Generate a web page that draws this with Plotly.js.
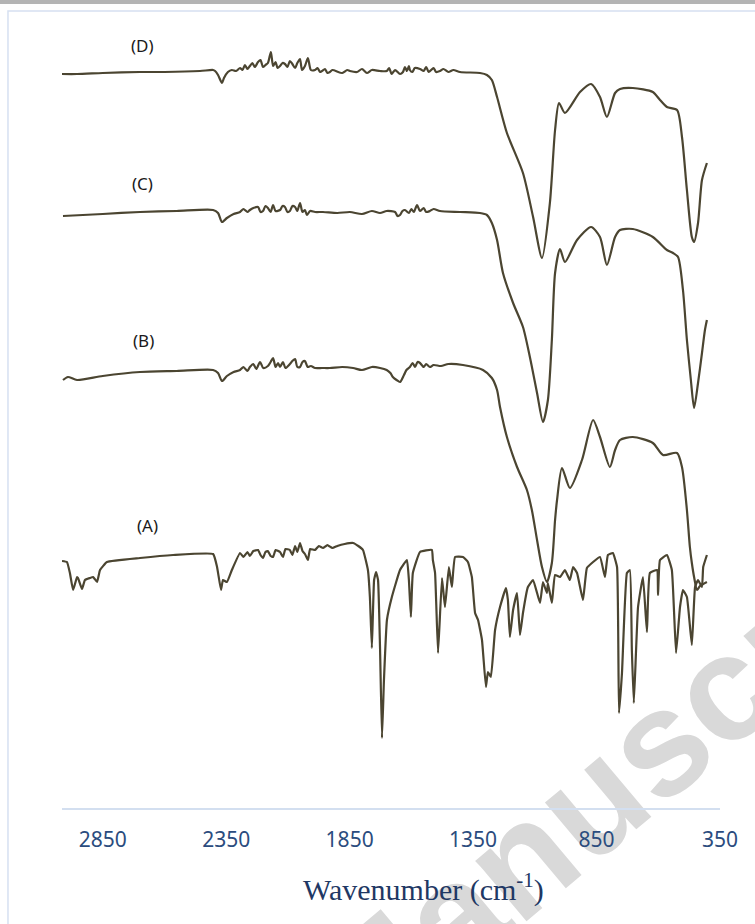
<!DOCTYPE html>
<html>
<head>
<meta charset="utf-8">
<script src="https://cdn.plot.ly/plotly-3.0.1.min.js"></script>
<style>
html,body{margin:0;padding:0;background:#fff;}
#wrap{position:relative;width:755px;height:924px;overflow:hidden;background:#fff;}
#wm{position:absolute;left:632px;top:765px;width:0;height:0;z-index:0;}
#wm span{position:absolute;left:0;top:0;white-space:nowrap;display:inline-block;
  transform:translate(-50%,-50%) rotate(-40deg);transform-origin:center center;
  font:bold 150px "Liberation Sans",Arial,sans-serif;color:#d9d9d9;line-height:1;}
#chart{position:absolute;left:0;top:0;width:755px;height:924px;z-index:1;}
</style>
</head>
<body>
<div id="wrap">
<div id="wm"><span>Manuscript</span></div>
<div id="chart"></div>
</div>
<script>
// FTIR spectra (arbitrary offset transmittance units)
const wnD = [3015,2954,2850,2699,2600,2456,2403,2395,2383,2367,2359,2343,2327,2310,2294,2284,2274,2264,2254,2244,2234,2221,2211,2201,2191,2181,2169,2160,2150,2142,2132,2122,2112,2102,2092,2082,2071,2062,2051,2043,2031,2019,2007,1990,1980,1970,1962,1950,1940,1930,1920,1880,1860,1849,1820,1800,1780,1760,1727,1700,1690,1680,1666,1646,1634,1626,1618,1610,1606,1596,1586,1565,1550,1540,1530,1510,1500,1484,1470,1450,1430,1403,1322,1294,1274,1253,1213,1148,1107,1071,1039,1018,1002,978,917,872,836,808,775,755,703,622,593,565,524,504,484,464,455,439,423,403];
const tD  = [734,734,735,736,736,737,738,737,733,725,730,736,738,737,740,738,743,739,742,745,741,746,748,741,743,745,756,742,746,740,742,745,744,741,747,744,740,745,749,738,742,750,738,738,740,736,737,739,735,736,738,735,738,737,736,739,735,738,737,737,740,734,738,734,736,741,737,742,738,736,740,739,737,741,736,740,736,737,739,736,738,736,735,733,728,711,675,635,591,550,605,678,705,695,716,724,711,691,715,719,720,716,708,701,698,671,618,571,566,585,628,645];

const wnC = [3011,2850,2699,2550,2403,2383,2367,2347,2320,2294,2280,2264,2254,2240,2221,2211,2201,2191,2181,2170,2160,2150,2132,2122,2112,2102,2092,2082,2071,2062,2051,2041,2031,2023,2010,1990,1958,1900,1849,1800,1760,1727,1700,1666,1656,1646,1636,1626,1610,1600,1590,1577,1565,1550,1540,1525,1510,1484,1403,1322,1294,1274,1253,1229,1188,1148,1120,1091,1067,1047,1031,1018,998,978,929,872,836,808,775,755,703,622,565,540,520,500,484,468,455,439,423,411,403];
const tC  = [592,594,596,597,598,595,586,590,594,596,599,596,598,600,601,596,597,602,600,596,603,597,598,602,601,596,597,602,601,597,605,596,598,593,597,596,596,595,596,594,597,595,597,596,592,593,597,598,595,599,596,603,597,600,596,597,599,597,596,595,593,585,568,535,505,481,451,415,386,408,468,535,559,546,568,581,571,543,571,578,579,571,558,555,551,518,468,428,400,425,455,478,488];

const wnB = [3011,2991,2954,2850,2699,2550,2403,2383,2367,2347,2320,2294,2280,2264,2254,2240,2228,2213,2200,2181,2170,2160,2150,2140,2132,2120,2110,2092,2082,2071,2062,2051,2041,2031,2020,2007,1990,1962,1930,1880,1836,1800,1760,1727,1700,1685,1675,1660,1646,1630,1620,1606,1595,1585,1575,1565,1550,1540,1525,1510,1480,1450,1391,1310,1274,1253,1241,1213,1172,1132,1112,1091,1071,1051,1031,1018,1010,990,958,909,864,836,796,775,755,703,622,581,524,504,484,472,464,455,443,431,403];
const tB  = [428,431,428,432,436,437,438,435,427,432,436,438,441,437,441,444,439,446,440,442,446,450,441,445,441,446,440,444,447,449,441,441,446,447,441,442,440,440,440,441,440,438,441,440,438,435,431,428,426,433,438,441,445,441,446,445,441,444,441,443,442,444,443,438,430,418,401,371,341,318,298,268,241,226,245,288,308,340,320,348,388,371,341,358,368,371,365,353,355,341,298,261,245,231,218,222,226];

const wnA = [3015,2995,2983,2970,2954,2950,2934,2922,2902,2889,2873,2861,2833,2699,2565,2403,2387,2371,2363,2347,2327,2294,2280,2264,2254,2240,2221,2211,2201,2191,2181,2170,2160,2150,2132,2120,2110,2092,2082,2071,2062,2051,2041,2031,2019,2010,1990,1975,1958,1940,1920,1900,1870,1836,1815,1796,1776,1768,1760,1751,1743,1735,1727,1719,1711,1699,1679,1646,1618,1610,1602,1594,1565,1517,1513,1504,1492,1476,1464,1448,1436,1423,1391,1371,1355,1342,1330,1314,1298,1290,1278,1261,1241,1217,1209,1201,1188,1172,1160,1148,1128,1107,1079,1067,1051,1047,1031,1018,998,978,958,945,929,905,889,864,836,816,804,784,767,759,747,727,715,707,699,682,662,646,634,605,601,593,565,545,528,512,500,484,464,451,439,423,418,403];
const tA  = [247,246,235,218,231,230,219,228,230,231,226,238,246,250,253,254,241,218,228,226,238,255,251,256,252,257,258,253,250,256,257,252,251,258,256,251,259,258,253,262,256,265,257,254,248,259,258,262,260,263,260,262,264,265,262,258,238,211,160,228,236,228,161,70,128,188,211,238,248,228,191,235,256,258,248,235,155,230,201,241,221,251,251,246,231,195,188,168,121,136,131,178,201,220,208,171,198,215,173,195,221,228,205,226,215,225,205,233,231,238,228,241,235,208,240,246,251,231,253,255,241,95,135,235,238,158,105,201,231,176,235,238,213,248,253,238,155,201,218,211,163,221,228,221,241,253];

const seriesNames = ["(A)","(B)","(C)","(D)"];
const labelWn = [2667,2683,2691,2687];
const labelT  = [283,468,625,763];
const tickVals = [2850,2350,1850,1350,850,350];

const lineColor = "#4b4531";
const mk = (x,y,name,smooth)=>({x:x,y:y,name:name,type:"scatter",mode:"lines",
  line:{color:lineColor,width:2.2,shape:"spline",smoothing:smooth},hoverinfo:"x+y"});

const data = [
  mk(wnA,tA,seriesNames[0],0.35),
  mk(wnB,tB,seriesNames[1],0.7),
  mk(wnC,tC,seriesNames[2],0.7),
  mk(wnD,tD,seriesNames[3],0.7)
];

const annotations = seriesNames.map((n,i)=>({x:labelWn[i],y:labelT[i],xref:"x",yref:"y",text:n,showarrow:false,
  xanchor:"center",yanchor:"middle",font:{family:"Noto Sans, sans-serif",size:17,color:"#1a1a1a"}}));
annotations.push({xref:"paper",yref:"paper",x:0.55,y:-0.101,xanchor:"center",yanchor:"middle",
  text:"Wavenumber (cm<sup>-1</sup>)",showarrow:false,
  font:{family:"Liberation Serif, serif",size:30,color:"#1f3864"}});

const layout = {
  width:755,height:924,
  margin:{l:62,r:35,t:18,b:116},
  paper_bgcolor:"rgba(0,0,0,0)",plot_bgcolor:"rgba(0,0,0,0)",
  showlegend:false,
  xaxis:{range:[3015,350],tickvals:tickVals,ticktext:tickVals.map(String),showgrid:false,zeroline:false,
    showline:true,linecolor:"#d3dff0",linewidth:1.5,ticks:"",ticklabelstandoff:12,
    tickfont:{family:"Noto Sans, sans-serif",size:21,color:"#2b4c7e"},fixedrange:true},
  yaxis:{range:[0,790],visible:false,showgrid:false,zeroline:false,fixedrange:true},
  annotations:annotations,
  shapes:[
    {type:"rect",xref:"paper",yref:"paper",x0:-0.2,x1:1.2,y0:1.0177,y1:1.03,fillcolor:"#b4b4b4",line:{width:0},layer:"below"},
    {type:"rect",xref:"paper",yref:"paper",x0:-0.0821,x1:1.06,y0:-0.16,y1:1.0089,fillcolor:"rgba(0,0,0,0)",line:{color:"#d6e0f1",width:1.5},layer:"below"}
  ]
};
Plotly.newPlot("chart",data,layout,{displayModeBar:false,staticPlot:true});
</script>
</body>
</html>
